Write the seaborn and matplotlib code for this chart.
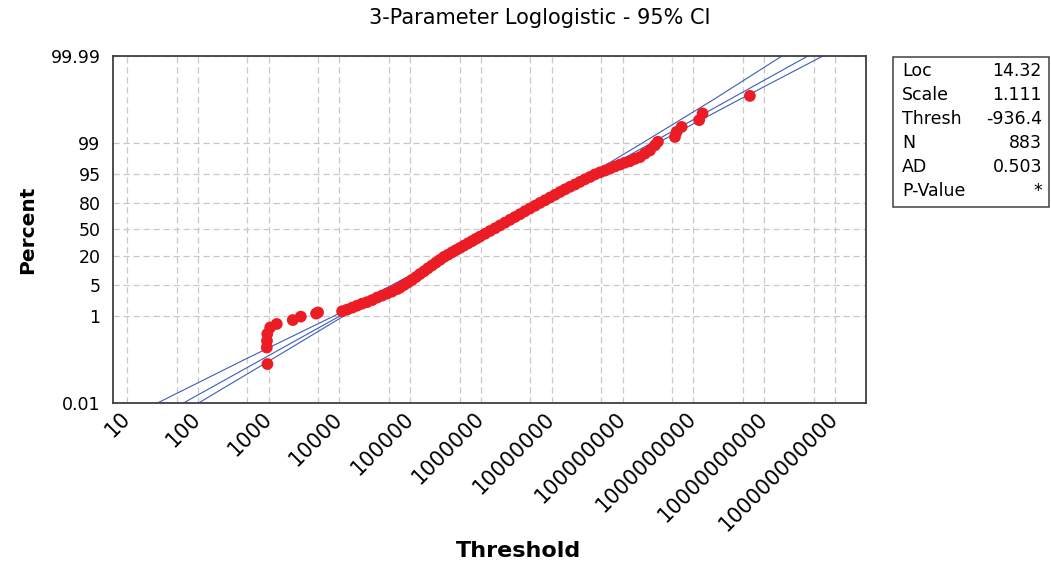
import numpy as np
import pandas as pd
import matplotlib
matplotlib.use("Agg")
import matplotlib.pyplot as plt
from matplotlib.ticker import FixedLocator, NullFormatter
from matplotlib.patches import Rectangle
import seaborn as sns

#%% data (x = Data - Threshold, y = percent)
tail_lo_x = [960, 940, 945, 955, 1050, 1300, 2190, 2840, 4670, 4990,
             1.09e4, 1.28e4, 1.51e4, 1.77e4, 2.08e4, 2.45e4, 2.89e4, 3.40e4,
             4.00e4, 4.70e4, 5.53e4, 6.51e4, 7.18e4]
tail_lo_pct = [0.079, 0.19, 0.27, 0.39, 0.55, 0.66, 0.81, 0.97, 1.14, 1.21,
               1.29, 1.40, 1.55, 1.72, 1.91, 2.07, 2.30, 2.62,
               2.90, 3.22, 3.57, 4.05, 4.37]

body_x = [8.17e4, 9.31e4, 1.06e5, 1.21e5, 1.37e5, 1.57e5, 1.78e5, 2.03e5,
          2.31e5, 2.64e5, 3.00e5, 3.42e5, 3.89e5, 4.44e5, 5.05e5, 5.75e5,
          6.55e5, 7.46e5, 8.49e5, 9.68e5, 1.14e6, 1.34e6, 1.58e6, 1.85e6,
          2.18e6, 2.57e6, 3.02e6, 3.56e6, 4.18e6, 4.92e6, 5.79e6, 6.81e6,
          8.02e6, 9.44e6, 1.11e7, 1.31e7, 1.54e7, 1.81e7, 2.13e7, 2.50e7,
          2.94e7, 3.47e7, 4.07e7, 4.80e7, 5.64e7, 6.64e7, 7.81e7, 9.18e7,
          1.08e8, 1.27e8, 1.50e8, 1.76e8, 2.07e8, 2.44e8, 2.87e8, 3.16e8]
body_pct = [4.99, 5.66, 6.44, 7.44, 8.58, 9.81, 11.3, 12.9,
            14.7, 16.7, 18.9, 20.8, 22.9, 25.1, 27.3, 29.8,
            32.4, 35.0, 37.9, 40.7, 44.3, 48.0, 51.6, 55.3,
            59.0, 62.6, 66.0, 69.3, 72.5, 75.3, 77.9, 80.4,
            82.5, 84.5, 86.3, 88.0, 89.4, 90.6, 91.6, 92.6,
            93.5, 94.2, 94.9, 95.4, 95.8, 96.2, 96.6, 96.9,
            97.2, 97.4, 97.7, 97.9, 98.25, 98.52, 98.87, 99.06]

tail_hi_x = [5.50e8, 5.81e8, 6.84e8, 1.21e9, 1.35e9, 6.30e9]
tail_hi_pct = [99.27, 99.44, 99.57, 99.70, 99.79, 99.917]

# fitted line and 95% CI bounds, read at fixed percent levels
line_pct = [0.01, 0.1, 1, 10, 50, 90, 99, 99.9, 99.99]
fit_x = [62.4, 791, 1.01e4, 1.43e5, 1.61e6, 1.82e7, 2.56e8, 3.27e9, 4.16e10]
ci_left_x = [26.8, 455, 8.32e3, 1.31e5, 1.51e6, 1.65e7, 1.91e8, 1.95e9, 1.79e10]
ci_right_x = [102, 1.09e3, 1.15e4, 1.52e5, 1.72e6, 1.94e7, 3.11e8, 4.53e9, 6.78e10]

y_ticks = [0.01, 1, 5, 20, 50, 80, 95, 99, 99.99]
y_ticklabels = ["0.01", "1", "5", "20", "50", "80", "95", "99", "99.99"]
x_ticks = [10.0 ** k for k in range(1, 12)]
x_ticklabels = ["1" + "0" * k for k in range(1, 12)]
x_minor = [5 * 10.0 ** k for k in range(1, 11)]

stat_names = ["Loc", "Scale", "Thresh", "N", "AD", "P-Value"]
stat_values = ["14.32", "1.111", "-936.4", "883", "0.503", "*"]

#%%
pts = pd.DataFrame({"x": tail_lo_x + body_x + tail_hi_x,
                    "pct": tail_lo_pct + body_pct + tail_hi_pct})

sns.set_style("white", {"text.color": "black", "axes.labelcolor": "black"})
plt.rcParams["font.family"] = ["DejaVu Sans"]

W, H = 1051, 567
fig = plt.figure(figsize=(W / 100, H / 100), dpi=100)
ax = fig.add_axes([113 / W, 1 - 403 / H, (866 - 113) / W, (403 - 56) / H])

def fwd(p):
    p = np.clip(p, 1e-9, 100 - 1e-9)
    return np.log(p / (100 - p))

def inv(l):
    return 100 / (1 + np.exp(-l))

ax.set_xscale("log")
ax.set_yscale("function", functions=(fwd, inv))

blue = "#3d5cb8"
for xs in (ci_left_x, fit_x, ci_right_x):
    sns.lineplot(x=xs, y=line_pct, sort=False, estimator=None, color=blue,
                 lw=0.8, ax=ax, zorder=2)

sns.scatterplot(data=pts, x="x", y="pct", color="#ec1c24", s=72,
                edgecolor="none", linewidth=0, ax=ax, zorder=3)

ax.set_xlim(10 ** 0.8, 10 ** 11.44)
ax.set_ylim(0.01, 99.99)
ax.set_xticks(x_ticks)
ax.set_xticklabels(x_ticklabels, rotation=45, ha="right", va="center",
                   rotation_mode="anchor", fontsize=15, color="black")
ax.xaxis.set_minor_locator(FixedLocator(x_minor))
ax.xaxis.set_minor_formatter(NullFormatter())
ax.set_yticks(y_ticks)
ax.set_yticklabels(y_ticklabels, fontsize=12.5, color="black")
ax.yaxis.set_minor_locator(FixedLocator([]))
ax.set_xlabel("")
ax.set_ylabel("")

ax.tick_params(axis="x", which="major", length=8, width=1.2, color="#404040", pad=1)
ax.tick_params(axis="x", which="minor", length=0)
ax.tick_params(axis="y", which="major", length=6, width=1.2, color="#404040", pad=3)
ax.grid(True, axis="x", which="both", color="#c8c8c8", ls=(0, (5, 3)), lw=0.9)
ax.grid(True, axis="y", which="major", color="#c8c8c8", ls=(0, (5, 3)), lw=0.9)
ax.set_axisbelow(True)
for s in ax.spines.values():
    s.set_visible(True)
    s.set_color("#404040")
    s.set_linewidth(1.3)

fig.text(540 / W, 1 - 18 / H, "3-Parameter Loglogistic - 95% CI",
         ha="center", va="center", fontsize=15, color="black")
fig.text(518 / W, 1 - 551 / H, "Threshold", ha="center", va="center",
         fontsize=16, fontweight="bold", color="black")
fig.text(28 / W, 1 - 230 / H, "Percent", ha="center", va="center",
         rotation=90, fontsize=14.5, fontweight="bold", color="black")

# stats box
fig.add_artist(Rectangle((893 / W, 1 - 207 / H), 156 / W, 150 / H,
                         transform=fig.transFigure, fill=False,
                         ec="#404040", lw=1.1))
for i, (name, val) in enumerate(zip(stat_names, stat_values)):
    yy = 1 - (71 + 24 * i) / H
    fig.text(902 / W, yy, name, ha="left", va="center", fontsize=12.5, color="black")
    fig.text(1042 / W, yy, val, ha="right", va="center", fontsize=12.5, color="black")

fig.savefig("out.png", dpi=100)
